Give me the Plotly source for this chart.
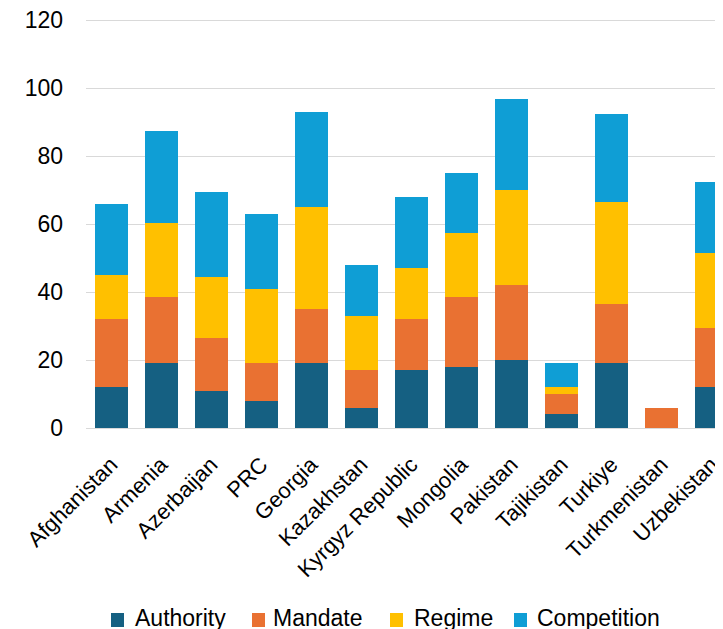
import plotly.graph_objects as go

countries = ["Afghanistan", "Armenia", "Azerbaijan", "PRC", "Georgia", "Kazakhstan",
             "Kyrgyz Republic", "Mongolia", "Pakistan", "Tajikistan", "Turkiye",
             "Turkmenistan", "Uzbekistan"]
authority   = [12, 19, 11, 8, 19, 6, 17, 18, 20, 4, 19, 0, 12]
mandate     = [20, 19.5, 15.5, 11, 16, 11, 15, 20.5, 22, 6, 17.5, 6, 17.5]
regime      = [13, 22, 18, 22, 30, 16, 15, 19, 28, 2, 30, 0, 22]
competition = [21, 27, 25, 22, 28, 15, 21, 17.5, 27, 7, 26, 0, 21]

series_names = ["Authority", "Mandate", "Regime", "Competition"]
series_colors = ["#156082", "#E97132", "#FFC000", "#0F9ED5"]
series_values = [authority, mandate, regime, competition]

font = "Liberation Sans"
W, H = 715, 621
L, R, T, B = 78, 0, 9, 201

fig = go.Figure()
for name, vals, col in zip(series_names, series_values, series_colors):
    fig.add_trace(go.Bar(x=countries, y=vals, name=name, marker_color=col,
                         marker_line_width=0, showlegend=False))

# manual legend (swatch + label) below the plot
pw, ph = W - L - R, H - T - B
sq_x = [103, 244, 382, 506]
tx_x = [125, 263, 404, 527]
sq_y0, sq_y1, tx_y = 605, 619, 610
for name, col, sx, tx in zip(series_names, series_colors, sq_x, tx_x):
    fig.add_shape(type="rect", xref="paper", yref="paper",
                  x0=(sx - L) / pw, x1=(sx + 13 - L) / pw,
                  y0=(H - B - sq_y1) / ph, y1=(H - B - sq_y0) / ph,
                  fillcolor=col, line_width=0)
    fig.add_annotation(text=name, xref="paper", yref="paper",
                       x=(tx - L) / pw, y=(H - B - tx_y) / ph,
                       xanchor="left", yanchor="middle", showarrow=False,
                       font=dict(size=23, family=font, color="#000000"))

fig.update_layout(
    barmode="stack", bargap=0.34,
    width=W, height=H,
    margin=dict(l=L, r=R, t=T, b=B),
    paper_bgcolor="white", plot_bgcolor="white",
    font=dict(family=font, size=22, color="#000000"),
    showlegend=False,
)
fig.update_xaxes(range=[-0.5, 12.23], tickangle=-45, showgrid=False, automargin=False,
                 showline=False, ticks="outside", ticklen=14, tickcolor="rgba(0,0,0,0)",
                 tickfont=dict(size=22))
fig.update_yaxes(range=[0, 121], tickvals=[0, 20, 40, 60, 80, 100, 120],
                 showgrid=True, gridcolor="#D9D9D9", automargin=False,
                 gridwidth=1.3, zeroline=True, zerolinecolor="#D9D9D9", zerolinewidth=1.3,
                 showline=False, ticks="", ticklabelstandoff=22, ticklabeloverflow="allow",
                 tickfont=dict(size=23))

fig.write_html("out.html")
